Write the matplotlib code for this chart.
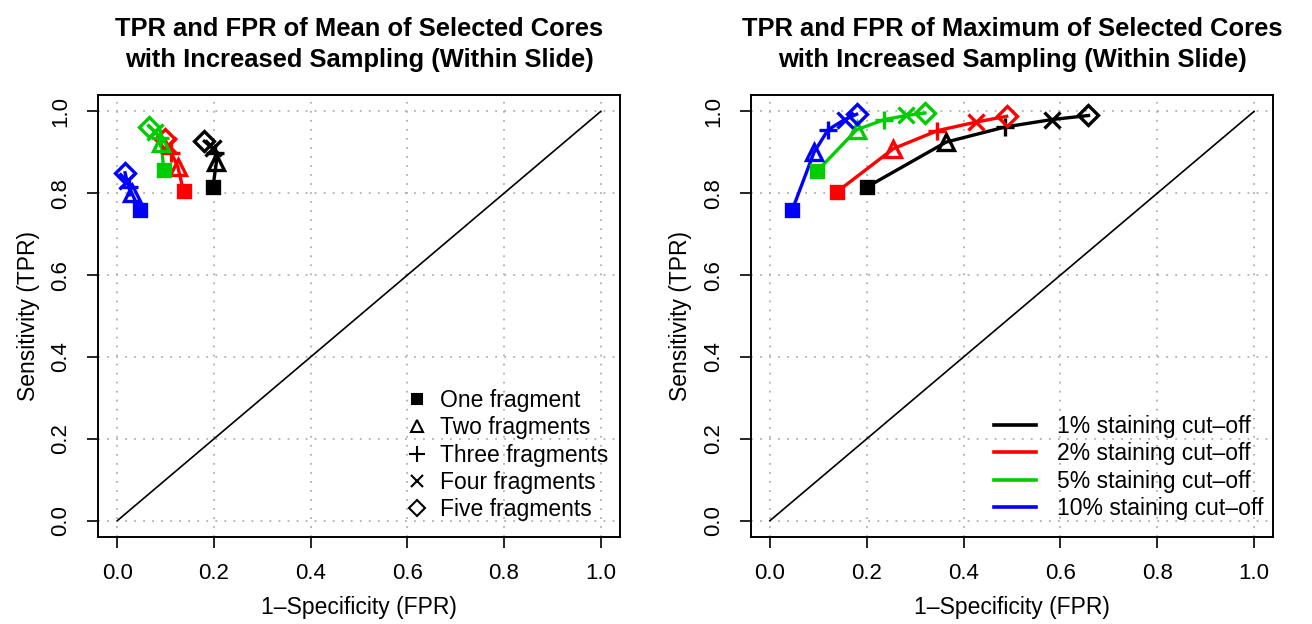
"""
ROC-style scatter of TPR vs FPR for increased sampling (within slide).
"""

import numpy as np
import matplotlib
matplotlib.use("Agg")
import matplotlib.pyplot as plt
from matplotlib.lines import Line2D

# =====================================================
# DATA
# =====================================================

fragments = ["One fragment", "Two fragments", "Three fragments",
             "Four fragments", "Five fragments"]

cutoffs = ["1% staining cut\u2013off", "2% staining cut\u2013off",
           "5% staining cut\u2013off", "10% staining cut\u2013off"]

# rows: 1%, 2%, 5%, 10% cut-off ; columns: one..five fragments
mean_fpr = [
    [0.198, 0.205, 0.203, 0.197, 0.180],
    [0.137, 0.125, 0.112, 0.104, 0.098],
    [0.096, 0.091, 0.088, 0.078, 0.066],
    [0.046, 0.030, 0.024, 0.020, 0.016],
]
mean_tpr = [
    [0.816, 0.877, 0.898, 0.910, 0.927],
    [0.805, 0.865, 0.898, 0.918, 0.932],
    [0.856, 0.923, 0.935, 0.950, 0.963],
    [0.759, 0.800, 0.816, 0.830, 0.850],
]

max_fpr = [
    [0.200, 0.364, 0.486, 0.582, 0.658],
    [0.139, 0.255, 0.346, 0.426, 0.489],
    [0.098, 0.179, 0.236, 0.282, 0.320],
    [0.046, 0.091, 0.120, 0.154, 0.179],
]
max_tpr = [
    [0.815, 0.925, 0.962, 0.980, 0.990],
    [0.804, 0.909, 0.953, 0.974, 0.988],
    [0.855, 0.955, 0.980, 0.990, 0.996],
    [0.759, 0.900, 0.955, 0.980, 0.993],
]

titles = [
    "TPR and FPR of Mean of Selected Cores\nwith Increased Sampling (Within Slide)",
    "TPR and FPR of Maximum of Selected Cores\nwith Increased Sampling (Within Slide)",
]

# =====================================================
# STYLE
# =====================================================

plt.rcParams["font.family"] = ["Liberation Sans", "DejaVu Sans"]

colors = ["black", "#FF0000", "#00CD00", "#0000FF"]
markers = ["s", "^", "+", "x", "D"]
msizes = [9, 11, 13, 11, 10]
fills = [True, False, False, False, False]

ticks = np.arange(0, 1.01, 0.2)
tick_labels = [f"{t:.1f}" for t in ticks]

FS = 16.5


def style_axes(ax, title):

    ax.set_xlim(-0.04, 1.04)
    ax.set_ylim(-0.04, 1.04)

    ax.set_xticks(ticks)
    ax.set_yticks(ticks)
    ax.set_xticklabels(tick_labels, fontsize=16)
    ax.set_yticklabels(tick_labels, fontsize=16, rotation=90,
                       va="center")

    ax.tick_params(direction="out", length=8, width=1.2, pad=11)

    for s in ax.spines.values():
        s.set_linewidth(1.4)

    ax.grid(True, color="#b0b0b0", linestyle=(0, (1, 4)),
            linewidth=1.3)
    ax.set_axisbelow(True)

    ax.plot([0, 1], [0, 1], color="black", linewidth=1.2)

    ax.set_xlabel("1\u2013Specificity (FPR)", fontsize=FS, labelpad=8)
    ax.set_ylabel("Sensitivity (TPR)", fontsize=FS, labelpad=8)

    ax.set_title(title, fontsize=18.4, fontweight="bold", pad=20,
                 linespacing=1.4)


def draw_series(ax, fpr, tpr):

    for ci, color in enumerate(colors):

        ax.plot(fpr[ci], tpr[ci], color=color, linewidth=2.4,
                zorder=3)

        for mi in range(len(fragments)):

            ax.plot(
                fpr[ci][mi],
                tpr[ci][mi],
                marker=markers[mi],
                markersize=msizes[mi],
                markeredgewidth=2.4,
                markerfacecolor=color if fills[mi] else "none",
                markeredgecolor=color,
                linestyle="none",
                zorder=4
            )


# =====================================================
# FIGURE
# =====================================================

fig = plt.figure(figsize=(13.12, 6.24), dpi=100)

ax1 = fig.add_axes([0.0747, 0.1394, 0.3979, 0.7083])
ax2 = fig.add_axes([0.5721, 0.1394, 0.3985, 0.7083])

style_axes(ax1, titles[0])
style_axes(ax2, titles[1])

draw_series(ax1, mean_fpr, mean_tpr)
draw_series(ax2, max_fpr, max_tpr)

frag_handles = [
    Line2D([], [], marker=markers[i], color="black", linestyle="none",
           markersize=msizes[i] * 0.85, markeredgewidth=1.5,
           markerfacecolor="black" if fills[i] else "none")
    for i in range(len(fragments))
]

ax1.legend(frag_handles, fragments, loc="lower right",
           bbox_to_anchor=(1.017, -0.011), frameon=False, fontsize=FS,
           handlelength=1.0, handletextpad=0.5, labelspacing=0.19)

cut_handles = [
    Line2D([], [], color=c, linewidth=2.6) for c in colors
]

ax2.legend(cut_handles, cutoffs, loc="lower right",
           bbox_to_anchor=(1.02, -0.008), frameon=False, fontsize=FS,
           handlelength=1.86, handletextpad=0.9, labelspacing=0.19)

fig.savefig("out.png", dpi=100)
